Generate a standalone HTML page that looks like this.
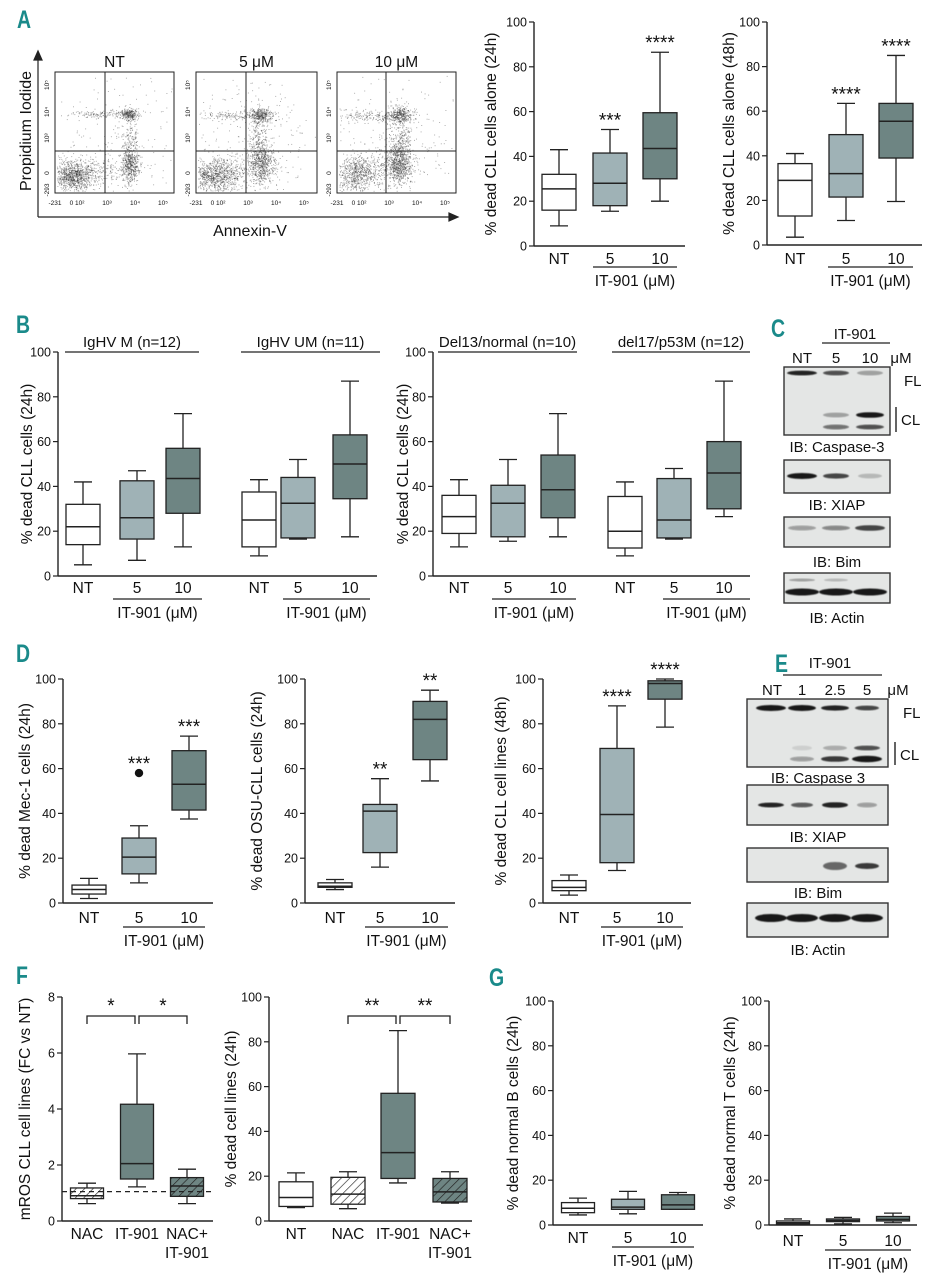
<!DOCTYPE html>
<html><head><meta charset="utf-8">
<style>
html,body{margin:0;padding:0;background:#fff;}
svg{display:block;font-family:"Liberation Sans",Arial,sans-serif;}
</style></head>
<body>
<svg id="fig" width="942" height="1280" viewBox="0 0 942 1280" xmlns="http://www.w3.org/2000/svg">
<defs>
<pattern id="hw" patternUnits="userSpaceOnUse" width="6" height="6" patternTransform="rotate(45)"><rect width="6" height="6" fill="#fff"/><line x1="0" y1="0" x2="0" y2="6" stroke="#222" stroke-width="1.3"/></pattern>
<pattern id="hd" patternUnits="userSpaceOnUse" width="6" height="6" patternTransform="rotate(45)"><rect width="6" height="6" fill="#6e8583"/><line x1="0" y1="0" x2="0" y2="6" stroke="#222" stroke-width="1.3"/></pattern>
<filter id="blur1"><feGaussianBlur stdDeviation="1.1"/></filter>
<filter id="blur2"><feGaussianBlur stdDeviation="0.5"/></filter>
</defs>
</svg>
<script>
// ---------- DATA ----------
// stats = [min, q1, median, q3, max]
const doseCats = ['NT','5','10'];
const pctTicks = [0,20,40,60,80,100];
const rosTicks = [0,2,4,6,8];

const a24Stats = [[9,16,25.5,32,43],[15.5,18,28,41.5,52],[20,30,43.5,59.5,86.5]];
const a24Stars = ['','***','****'];
const a48Stats = [[3.5,13,29,36.5,41],[11,21.5,32,49.5,63.5],[19.5,39,55.5,63.5,85]];
const a48Stars = ['','****','****'];

const bLeftCats = ['NT','5','10','NT','5','10'];
const bLeftStats = [[5,14,22,32,42],[7,16.5,26,42.5,47],[13,28,43.5,57,72.5],[9,13,25,37.5,43],[16.5,17,32.5,44,52],[17.5,34.5,50,63,87]];
const bRightStats = [[13,19,26.5,36,43],[15.5,17.5,32.5,40.5,52],[17.5,26,38.5,54,72.5],[9,12.5,20,35.5,42],[16.5,17,25,43.5,48],[26.5,30,46,60,87]];

const d1Stats = [[2,4,6,8,11],[9,13,20.5,29,34.5],[37.5,41.5,53,68,74.5]];
const d1Outliers = [null,58,null];
const d1Stars = ['','***','***'];
const d2Stats = [[6,7,7.5,9,10.5],[16,22.5,41,44,55.5],[54.5,64,82,90,95]];
const d2Stars = ['','**','**'];
const d3Stats = [[3.5,5.5,7,10,12.5],[14.5,18,39.5,69,88],[78.5,91,98,99.2,100]];
const d3Stars = ['','****','****'];

const f1Cats = ['NAC','IT-901','NAC+|IT-901'];
const f1Stats = [[0.62,0.8,0.9,1.18,1.35],[1.22,1.5,2.05,4.17,5.97],[0.62,0.88,1.25,1.55,1.85]];
const f1Ref = 1.05;
const f2Cats = ['NT','NAC','IT-901','NAC+|IT-901'];
const f2Stats = [[6,6.5,10.5,17.5,21.5],[5.5,7.5,12,19.5,22],[17,19,30.5,57,85],[8,8.5,13,19,22]];
const f1Brackets = [[0,1,'*'],[1,2,'*']];
const f2Brackets = [[1,2,'**'],[2,3,'**']];

const g1Stats = [[4.5,5.5,7.5,10,12],[5,7,8,11.5,15],[7,7,9,13.5,14.5]];
const g2Stats = [[0.3,0.5,1,1.8,2.7],[0.5,1.5,2,2.7,3.4],[1,1.8,2.5,3.8,5.3]];

// ---------- HELPERS ----------
const NS='http://www.w3.org/2000/svg';
const svg=document.getElementById('fig');
const WHITE='#ffffff', LIGHT='#9fb2b6', DARK='#6e8583';
function mk(tag, attrs, name, parent){
  const e=document.createElementNS(NS,tag);
  for(const k in attrs) e.setAttribute(k,attrs[k]);
  
  
  (parent||svg).appendChild(e);
  return e;
}
function txt(s,x,y,size,name,anchor,extra,parent){
  const a=Object.assign({x:x,y:y,'font-size':size,'text-anchor':anchor||'middle',fill:'#111'},extra||{});
  const e=mk('text',a,name,parent);
  e.textContent=s;
  return e;
}
function letter(ch,x,y){
  const e=mk('text',{x:0,y:0,'font-size':25,'font-weight':'bold',fill:'#1a8a8a',transform:`translate(${x},${y}) scale(0.78,1)`},'panel-label-'+ch.toLowerCase());
  e.textContent=ch;
}

function drawChart(c, cats, stats, fills, ticks, tmax){
  const g=mk('g',{},c.name);
  const ys=v=>c.y0-(v/tmax)*(c.y0-c.yTop);
  mk('line',{x1:c.ax,y1:c.yTop,x2:c.ax,y2:c.y0+0.5,stroke:'#222','stroke-width':1.4},'y-axis',g);
  mk('line',{x1:c.ax,y1:c.y0,x2:c.xEnd,y2:c.y0,stroke:'#222','stroke-width':1.4},'x-axis',g);
  ticks.forEach(t=>{
    mk('line',{x1:c.ax-5,y1:ys(t),x2:c.ax,y2:ys(t),stroke:'#222','stroke-width':1.2},'y-tick',g);
    txt(String(t),c.ax-7,ys(t)+4.5,12.5,'y-tick-label','end',null,g);
  });
  txt(c.title,0,0,15.5,'y-axis-title','middle',{transform:`translate(${c.tx},${(c.yTop+c.y0)/2}) rotate(-90)`},g);
  const bw=c.bw||34;
  stats.forEach((s,i)=>{
    const x=c.xs[i];
    const bg=mk('g',{},'box-'+cats[i].replace(/[^A-Za-z0-9]+/g,'').toLowerCase()+'-'+i,g);
    mk('line',{x1:x,y1:ys(s[0]),x2:x,y2:ys(s[4]),stroke:'#222','stroke-width':1.3},'whisker',bg);
    mk('line',{x1:x-9,y1:ys(s[0]),x2:x+9,y2:ys(s[0]),stroke:'#222','stroke-width':1.3},'whisker-cap-low',bg);
    mk('line',{x1:x-9,y1:ys(s[4]),x2:x+9,y2:ys(s[4]),stroke:'#222','stroke-width':1.3},'whisker-cap-high',bg);
    mk('rect',{x:x-bw/2,y:ys(s[3]),width:bw,height:Math.max(1,ys(s[1])-ys(s[3])),fill:fills[i],stroke:'#222','stroke-width':1.3},'box',bg);
    mk('line',{x1:x-bw/2,y1:ys(s[2]),x2:x+bw/2,y2:ys(s[2]),stroke:'#222','stroke-width':1.5},'median-line',bg);
    let top=s[4];
    if(c.outliers && c.outliers[i]!=null){
      mk('circle',{cx:x,cy:ys(c.outliers[i]),r:4.2,fill:'#111'},'outlier-point',bg);
      top=Math.max(top,c.outliers[i]);
    }
    if(c.stars && c.stars[i]) txt(c.stars[i],x,ys(top)-3,19,'significance-stars','middle',null,bg);
    const parts=cats[i].split('|');
    parts.forEach((p,k)=>txt(p,x,c.labY+k*19,15.5,'x-category-label','middle',null,g));
  });
  (c.subs||[]).forEach(sb=>{
    mk('line',{x1:sb[0],y1:sb[2],x2:sb[1],y2:sb[2],stroke:'#222','stroke-width':1.3},'treatment-group-line',g);
    txt('IT-901 (\u03bcM)',(sb[0]+sb[1])/2,sb[2]+19,15.5,'treatment-group-label','middle',null,g);
  });
  (c.heads||[]).forEach(h=>{
    mk('line',{x1:h[0],y1:h[2],x2:h[1],y2:h[2],stroke:'#222','stroke-width':1.3},'subset-header-line',g);
    txt(h[3],(h[0]+h[1])/2,h[2]-5,15,'subset-header','middle',null,g);
  });
  if(c.ref!=null) mk('line',{x1:c.ax,y1:ys(c.ref),x2:c.xEnd,y2:ys(c.ref),stroke:'#222','stroke-width':1.3,'stroke-dasharray':'5,4'},'reference-dashed-line',g);
  (c.brackets||[]).forEach((b,j)=>{
    const a=c.xs[b[0]]+(j>0?2:0), e=c.xs[b[1]]-(j===0?2:0);
    mk('path',{d:`M${a},${c.brY+8} V${c.brY} H${e} V${c.brY+8}`,fill:'none',stroke:'#222','stroke-width':1.3},'significance-bracket',g);
    txt(b[2],(a+e)/2,c.brY-4,19,'bracket-stars','middle',null,g);
  });
  return g;
}

// ---------- PANEL A: flow ----------
letter('A',17,28);
let seed=7;
function rnd(){seed=(seed*16807)%2147483647;return (seed-1)/2147483646;}
function gauss(){let u=0,v=0;while(u===0)u=rnd();v=rnd();return Math.sqrt(-2*Math.log(u))*Math.cos(2*Math.PI*v);}
const flowX=[55,196,337], flowW=[119,121,119], flowTitles=['NT','5 \u03bcM','10 \u03bcM'];
const clusters=[
 [[18,104,11,8,900],[75,93,4,10,420],[74,42,5,3,260],[48,42,16,2,120],[75,70,4,14,150],[45,98,22,8,250],[60,60,40,35,180]],
 [[18,104,12,9,800],[65,92,6,12,550],[65,43,6,4,320],[38,43,18,3,150],[63,70,5,16,200],[40,96,24,8,260],[55,60,40,35,220]],
 [[20,102,12,9,650],[62,92,6,12,650],[62,43,6,5,330],[36,44,18,3,180],[62,68,6,16,240],[40,94,24,8,260],[55,60,40,35,220]]
];
flowX.forEach((x0,p)=>{
  const g=mk('g',{},'flow-plot-'+p);
  mk('rect',{x:x0,y:72,width:flowW[p],height:121,fill:'#fff',stroke:'#222','stroke-width':1},'flow-plot-frame',g);
  const dots=mk('g',{fill:'#333','fill-opacity':0.38},'flow-events',g);
  clusters[p].forEach(cl=>{
    for(let k=0;k<cl[4];k++){
      const x=x0+cl[0]+gauss()*cl[2], y=72+cl[1]+gauss()*cl[3]*0.9;
      if(x<x0+2||x>x0+flowW[p]-2||y<74||y>191) continue;
      const d=document.createElementNS(NS,'rect');
      d.setAttribute('x',x.toFixed(1));d.setAttribute('y',y.toFixed(1));d.setAttribute('width',1);d.setAttribute('height',1);
      dots.appendChild(d);
    }
  });
  const qx=x0+[50,50,49][p];
  mk('line',{x1:qx,y1:72,x2:qx,y2:193,stroke:'#222','stroke-width':1},'quadrant-vertical',g);
  mk('line',{x1:x0,y1:151,x2:x0+flowW[p],y2:151,stroke:'#222','stroke-width':1},'quadrant-horizontal',g);
  txt(flowTitles[p],x0+flowW[p]/2,67,15.5,'flow-plot-title','middle',null,g);
  const yl=[['10\u2075',85],['10\u2074',112],['10\u00b3',138],['0',173],['-293',190]];
  yl.forEach(t=>txt(t[0],0,0,6.5,'flow-y-tick','middle',{transform:`translate(${x0-6},${t[1]}) rotate(-90)`},g));
  [['-231',x0+0],['0 10\u00b2',x0+22],['10\u00b3',x0+52],['10\u2074',x0+80],['10\u2075',x0+108]].forEach(t=>txt(t[0],t[1],205,6.5,'flow-x-tick','middle',null,g));
});
mk('path',{d:'M38,217 V54 M34,60 L38,51 L42,60 Z',stroke:'#222','stroke-width':1.2,fill:'#222'},'y-arrow-axis');
mk('path',{d:'M38,217 H455 M449,213 L458,217 L449,221 Z',stroke:'#222','stroke-width':1.2,fill:'#222'},'x-arrow-axis');
txt('Annexin-V',250,236,16,'x-axis-title-annexin');
txt('Propidium Iodide',0,0,16,'y-axis-title-pi','middle',{transform:'translate(31,131) rotate(-90)'});

// A charts
drawChart({name:'chart-a-24h',ax:534,yTop:22,y0:246,xEnd:685,xs:[559,610,660],labY:264,tx:496,title:'% dead CLL cells alone (24h)',stars:a24Stars,subs:[[593,677,267]]},doseCats,a24Stats,[WHITE,LIGHT,DARK],pctTicks,100);
drawChart({name:'chart-a-48h',ax:767,yTop:22,y0:245,xEnd:922,xs:[795,846,896],labY:264,tx:734,title:'% dead CLL cells alone (48h)',stars:a48Stars,subs:[[828,913,267]]},doseCats,a48Stats,[WHITE,LIGHT,DARK],pctTicks,100);

// ---------- PANEL B ----------
letter('B',16,333);
drawChart({name:'chart-b-ighv',ax:58,yTop:352,y0:576,xEnd:377,xs:[83,137,183,259,298,350],labY:593,tx:32,title:'% dead CLL cells (24h)',subs:[[113,202,599],[283,370,599]],heads:[[65,199,352,'IgHV M (n=12)'],[241,380,352,'IgHV UM (n=11)']]},bLeftCats,bLeftStats,[WHITE,LIGHT,DARK,WHITE,LIGHT,DARK],pctTicks,100);
drawChart({name:'chart-b-cytogenetics',ax:433,yTop:352,y0:576,xEnd:750,xs:[459,508,558,625,674,724],labY:593,tx:408,title:'% dead CLL cells (24h)',subs:[[492,576,599],[663,750,599]],heads:[[438,577,352,'Del13/normal (n=10)'],[612,750,352,'del17/p53M (n=12)']]},bLeftCats,bRightStats,[WHITE,LIGHT,DARK,WHITE,LIGHT,DARK],pctTicks,100);

// ---------- WESTERN BLOTS ----------
function blot(name,x1,x2,y1,y2,bands){
  const g=mk('g',{},name);
  mk('rect',{x:x1,y:y1,width:x2-x1,height:y2-y1,fill:'#e4e6e5',stroke:'#333','stroke-width':1.4},'blot-frame',g);
  bands.forEach(b=>{
    if(b[3]<=0) return;
    mk('ellipse',{cx:b[0],cy:b[1],rx:b[2],ry:b[4]||2.4,fill:'#111','fill-opacity':b[3],filter:'url(#blur2)'},'band',g);
  });
  return g;
}
letter('C',771,337);
txt('IT-901',855,339,15,'c-treatment-label');
mk('line',{x1:822,y1:343,x2:890,y2:343,stroke:'#222','stroke-width':1.2},'c-treatment-line');
[['NT',802],['5',836],['10',870],['\u03bcM',901]].forEach(l=>txt(l[0],l[1],363,15,'c-lane-label'));
const cL=[802,836,870];
blot('c-caspase3-blot',784,890,367,435,[[cL[0],373,15,0.9],[cL[1],373,13,0.7],[cL[2],373,13,0.3],[cL[1],415,13,0.3],[cL[2],415,14,0.95,2.8],[cL[1],427,13,0.55],[cL[2],427,14,0.7]]);
txt('FL',904,386,15,'fl-label','start');
mk('line',{x1:896,y1:407,x2:896,y2:432,stroke:'#222','stroke-width':1.4},'cl-bracket');
txt('CL',901,425,15,'cl-label','start');
txt('IB: Caspase-3',837,452,15,'c-ib-caspase3');
blot('c-xiap-blot',784,890,460,493,[[cL[0],476,15,0.95,3],[cL[1],476,13,0.75,2.6],[cL[2],476,12,0.2]]);
txt('IB: XIAP',837,510,15,'c-ib-xiap');
blot('c-bim-blot',784,890,517,547,[[cL[0],528,14,0.35],[cL[1],528,14,0.45],[cL[2],528,15,0.75,2.8]]);
txt('IB: Bim',837,567,15,'c-ib-bim');
blot('c-actin-blot',784,890,573,603,[[cL[0],580,13,0.3,1.5],[cL[1],580,12,0.2,1.5],[cL[0],592,17,0.95,3.5],[cL[1],592,17,0.95,3.5],[cL[2],592,17,0.95,3.5]]);
txt('IB: Actin',837,623,15,'c-ib-actin');

letter('E',775,672);
txt('IT-901',830,668,15,'e-treatment-label');
mk('line',{x1:783,y1:675,x2:882,y2:675,stroke:'#222','stroke-width':1.2},'e-treatment-line');
[['NT',772],['1',802],['2.5',835],['5',867],['\u03bcM',898]].forEach(l=>txt(l[0],l[1],695,15,'e-lane-label'));
const eL=[771,802,835,867];
blot('e-caspase3-blot',747,888,699,767,[[eL[0],708,15,0.95,3],[eL[1],708,14,0.95,3],[eL[2],708,14,0.9,2.6],[eL[3],708,12,0.75],[eL[1],748,10,0.1],[eL[2],748,12,0.25],[eL[3],748,13,0.7],[eL[1],759,12,0.35],[eL[2],759,14,0.8,2.8],[eL[3],759,15,0.95,3.2]]);
txt('FL',903,718,15,'e-fl-label','start');
mk('line',{x1:895,y1:742,x2:895,y2:765,stroke:'#222','stroke-width':1.4},'e-cl-bracket');
txt('CL',900,760,15,'e-cl-label','start');
txt('IB: Caspase 3',818,783,15,'e-ib-caspase3');
blot('e-xiap-blot',747,888,785,825,[[eL[0],805,13,0.9],[eL[1],805,11,0.65],[eL[2],805,13,0.9,2.8],[eL[3],805,10,0.35]]);
txt('IB: XIAP',818,842,15,'e-ib-xiap');
blot('e-bim-blot',747,888,848,882,[[eL[2],866,12,0.6,4],[eL[3],866,12,0.8,3]]);
txt('IB: Bim',818,898,15,'e-ib-bim');
blot('e-actin-blot',747,888,903,937,[[eL[0],918,16,0.95,4],[eL[1],918,16,0.95,4],[eL[2],918,16,0.95,4],[eL[3],918,16,0.95,4]]);
txt('IB: Actin',818,955,15,'e-ib-actin');

// ---------- PANEL D ----------
letter('D',16,662);
drawChart({name:'chart-d-mec1',ax:63,yTop:679,y0:903,xEnd:213,xs:[89,139,189],labY:923,tx:30,title:'% dead Mec-1 cells (24h)',stars:d1Stars,outliers:d1Outliers,subs:[[123,205,927]]},doseCats,d1Stats,[WHITE,LIGHT,DARK],pctTicks,100);
drawChart({name:'chart-d-osucll',ax:305,yTop:679,y0:903,xEnd:455,xs:[335,380,430],labY:923,tx:262,title:'% dead OSU-CLL cells (24h)',stars:d2Stars,subs:[[365,448,927]]},doseCats,d2Stats,[WHITE,LIGHT,DARK],pctTicks,100);
drawChart({name:'chart-d-celllines',ax:543,yTop:679,y0:903,xEnd:691,xs:[569,617,665],labY:923,tx:506,title:'% dead CLL cell lines (48h)',stars:d3Stars,subs:[[601,683,927]]},doseCats,d3Stats,[WHITE,LIGHT,DARK],pctTicks,100);

// ---------- PANEL F ----------
letter('F',16,984);
drawChart({name:'chart-f-mros',ax:62,yTop:997,y0:1221,xEnd:213,xs:[87,137,187],bw:33,labY:1239,tx:30,title:'mROS CLL cell lines (FC vs NT)',ref:f1Ref,brackets:f1Brackets,brY:1016},f1Cats,f1Stats,['url(#hw)',DARK,'url(#hd)'],rosTicks,8);
drawChart({name:'chart-f-dead',ax:269,yTop:997,y0:1221,xEnd:472,xs:[296,348,398,450],bw:34,labY:1239,tx:236,title:'% dead cell lines (24h)',brackets:f2Brackets,brY:1016},f2Cats,f2Stats,[WHITE,'url(#hw)',DARK,'url(#hd)'],pctTicks,100);

// ---------- PANEL G ----------
letter('G',489,986);
drawChart({name:'chart-g-bcells',ax:553,yTop:1001,y0:1225,xEnd:703,xs:[578,628,678],bw:33,labY:1243,tx:518,title:'% dead normal B cells (24h)',subs:[[612,694,1247]]},doseCats,g1Stats,[WHITE,LIGHT,DARK],pctTicks,100);
drawChart({name:'chart-g-tcells',ax:769,yTop:1001,y0:1225,xEnd:917,xs:[793,843,893],bw:33,labY:1246,tx:735,title:'% dead normal T cells (24h)',subs:[[825,911,1250]]},doseCats,g2Stats,[WHITE,LIGHT,DARK],pctTicks,100);
</script>
</body></html>
